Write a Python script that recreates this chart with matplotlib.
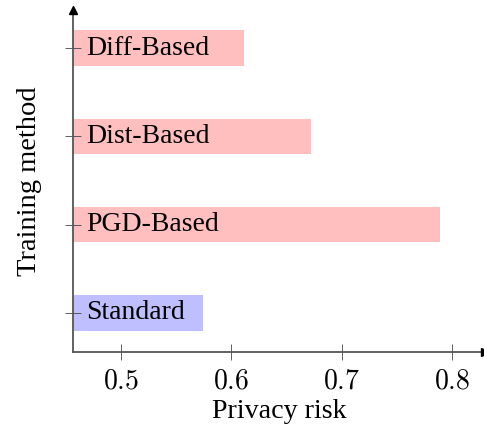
import matplotlib
matplotlib.use("Agg")
import matplotlib.pyplot as plt

methods = ["Standard", "PGD-Based", "Dist-Based", "Diff-Based"]
risk = [0.574, 0.789, 0.672, 0.6115]
colors = ["#BFBFFF", "#FFBFBF", "#FFBFBF", "#FFBFBF"]
xticks = [0.5, 0.6, 0.7, 0.8]

plt.rcParams["font.family"] = ["Liberation Serif", "DejaVu Serif"]
plt.rcParams["mathtext.fontset"] = "cm"

fig = plt.figure(figsize=(4.85, 4.29), dpi=100)
W, H = 485, 429
x0, x1 = 72.7, 485
y0, y1 = 352, 10
ax = fig.add_axes([x0 / W, 1 - y0 / H, (x1 - x0) / W, (y0 - y1) / H])

xmin = 0.5 - (121 - x0) / 1103
xmax = 0.5 + (x1 - 121) / 1103
ymin = -(y0 - 313) / 88.3
ymax = 3 + (48 - y1) / 88.3

pos = list(range(len(methods)))
ax.barh(pos, [r - xmin for r in risk], left=xmin, height=0.40, color=colors, edgecolor="none", zorder=1)
for p, m in zip(pos, methods):
    ax.text(xmin + 0.0125, p, m, va="center", ha="left", fontsize=20, color="black", zorder=3)

ax.set_xlim(xmin, xmax)
ax.set_ylim(ymin, ymax)
ax.set_xticks(xticks)
ax.set_xticklabels([f"${t:.1f}$" for t in xticks], fontsize=20)
ax.set_yticks(pos)
ax.set_yticklabels([])
ax.tick_params(axis="both", direction="inout", length=11, width=0.6, color="#444444")
ax.tick_params(axis="x", pad=7)

for s in ["top", "right"]:
    ax.spines[s].set_visible(False)
for s in ["left", "bottom"]:
    ax.spines[s].set_color("#555555")
    ax.spines[s].set_linewidth(1.3)

ax.plot([1], [0], marker=">", color="black", markersize=6, transform=ax.transAxes, clip_on=False, zorder=5)
ax.plot([0], [1], marker="^", color="black", markersize=6, transform=ax.transAxes, clip_on=False, zorder=5)

ax.set_xlabel("Privacy risk", fontsize=20.2, labelpad=3)
ax.set_ylabel("Training method", fontsize=20.5, labelpad=13)

fig.savefig("out.png", dpi=100)
